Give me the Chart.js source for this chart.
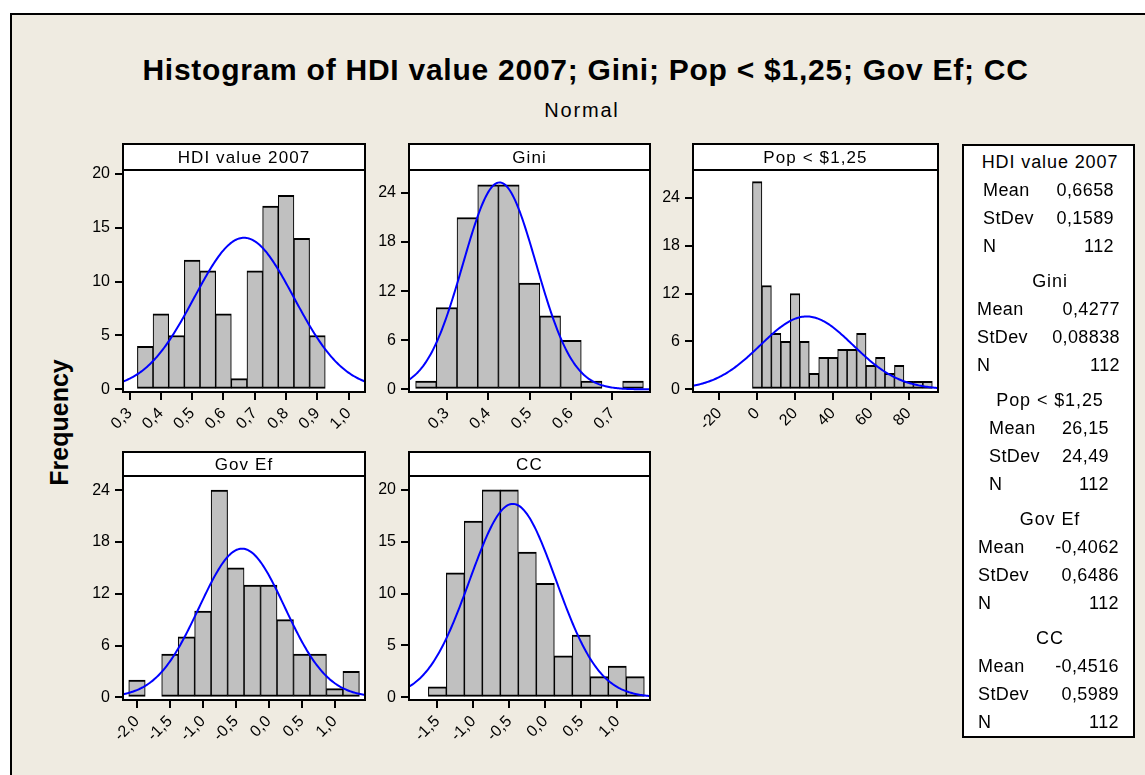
<!DOCTYPE html>
<html>
<head>
<meta charset="utf-8">
<script src="https://cdn.jsdelivr.net/npm/chart.js@4.4.1/dist/chart.umd.min.js"></script>
<style>
  html, body { margin: 0; padding: 0; background: #ffffff; }
  body { width: 1145px; height: 775px; position: relative; overflow: hidden; font-family: 'Liberation Sans', Arial, sans-serif; color: #000; }
  #page { position: absolute; left: 10px; top: 13px; width: 1140px; height: 770px; background: #EFEBE1; border-left: 2px solid #000; border-top: 2px solid #000; }
  .abs { position: absolute; white-space: nowrap; }
  #title { left: 0; width: 1171px; top: 54.6px; text-align: center; font-size: 30px; line-height: 30px; font-weight: bold; letter-spacing: 0.75px; }
  #subtitle { left: 0; width: 1164px; top: 99.5px; text-align: center; font-size: 20px; line-height: 20px; letter-spacing: 1.8px; }
  #ylab { left: -41.5px; top: 409.5px; width: 200px; height: 25px; text-align: center; font-size: 25px; line-height: 25px; font-weight: bold; transform: rotate(-90deg); }
  #legend { left: 962px; top: 144px; width: 169px; height: 590px; background: #fff; border: 2px solid #000; }
  .lg { font-size: 18px; line-height: 18px; letter-spacing: 0.4px; }
  .lgh { letter-spacing: 0.9px; }
</style>
</head>
<body>
<div id="page"></div>
<div class="abs" id="title">Histogram of HDI value 2007; Gini; Pop &lt; $1,25; Gov Ef; CC</div>
<div class="abs" id="subtitle">Normal</div>
<div class="abs" id="ylab">Frequency</div>
<div class="abs" id="legend"></div>
<script>
// ---------------- DATA ----------------
const panelNames = ['HDI value 2007', 'Gini', 'Pop < $1,25', 'Gov Ef', 'CC'];

// histogram bin midpoints and counts
const hdiBins   = [0.35, 0.40, 0.45, 0.50, 0.55, 0.60, 0.65, 0.70, 0.75, 0.80, 0.85, 0.90];
const hdiCounts = [4, 7, 5, 12, 11, 7, 1, 11, 17, 18, 14, 5];

const giniBins   = [0.25, 0.30, 0.35, 0.40, 0.45, 0.50, 0.55, 0.60, 0.65, 0.70, 0.75];
const giniCounts = [1, 10, 21, 25, 25, 13, 9, 6, 1, 0, 1];

const popBins   = [0, 5, 10, 15, 20, 25, 30, 35, 40, 45, 50, 55, 60, 65, 70, 75, 80, 85, 90];
const popCounts = [26, 13, 7, 6, 12, 6, 2, 4, 4, 5, 5, 7, 3, 4, 2, 3, 1, 1, 1];

const govBins   = [-2.00, -1.75, -1.50, -1.25, -1.00, -0.75, -0.50, -0.25, 0.00, 0.25, 0.50, 0.75, 1.00, 1.25];
const govCounts = [2, 0, 5, 7, 10, 24, 15, 13, 13, 9, 5, 5, 1, 3];

const ccBins   = [-1.50, -1.25, -1.00, -0.75, -0.50, -0.25, 0.00, 0.25, 0.50, 0.75, 1.00, 1.25];
const ccCounts = [1, 12, 17, 20, 20, 14, 11, 4, 6, 2, 3, 2];

// fitted normal parameters (legend)
const means  = [0.6658, 0.4277, 26.15, -0.4062, -0.4516];
const stdevs = [0.1589, 0.08838, 24.49, 0.6486, 0.5989];
const counts = [112, 112, 112, 112, 112];
const meanLabels  = ['0,6658', '0,4277', '26,15', '-0,4062', '-0,4516'];
const stdevLabels = ['0,1589', '0,08838', '24,49', '0,6486', '0,5989'];
const nLabels     = ['112', '112', '112', '112', '112'];

// tick values and labels
const hdiXTicks  = [0.3, 0.4, 0.5, 0.6, 0.7, 0.8, 0.9, 1.0];
const hdiXLabels = ['0,3', '0,4', '0,5', '0,6', '0,7', '0,8', '0,9', '1,0'];
const giniXTicks  = [0.3, 0.4, 0.5, 0.6, 0.7];
const giniXLabels = ['0,3', '0,4', '0,5', '0,6', '0,7'];
const popXTicks  = [-20, 0, 20, 40, 60, 80];
const popXLabels = ['-20', '0', '20', '40', '60', '80'];
const govXTicks  = [-2.0, -1.5, -1.0, -0.5, 0.0, 0.5, 1.0];
const govXLabels = ['-2,0', '-1,5', '-1,0', '-0,5', '0,0', '0,5', '1,0'];
const ccXTicks  = [-1.5, -1.0, -0.5, 0.0, 0.5, 1.0];
const ccXLabels = ['-1,5', '-1,0', '-0,5', '0,0', '0,5', '1,0'];

const yTicks5 = [0, 5, 10, 15, 20];
const yTicks6 = [0, 6, 12, 18, 24];

// ---------------- LAYOUT ----------------
Chart.defaults.font.family = "'Liberation Sans', Arial, sans-serif";
Chart.defaults.color = '#000';

const AXW = 48, AXH = 52, PR = 12;
const FONT = "'Liberation Sans', Arial, sans-serif";

const panels = [
  { i: 0, bins: hdiBins, counts: hdiCounts, xTicks: hdiXTicks, xLabels: hdiXLabels, yTicks: yTicks5,
    left: 123, right: 365, stripTop: 144, top: 170, bottom: 392, xMin: 0.279, xMax: 1.052, yMin: -0.24, yMax: 20.34 },
  { i: 1, bins: giniBins, counts: giniCounts, xTicks: giniXTicks, xLabels: giniXLabels, yTicks: yTicks6,
    left: 409, right: 650, stripTop: 144, top: 170, bottom: 392, xMin: 0.209, xMax: 0.791, yMin: -0.32, yMax: 26.8 },
  { i: 2, bins: popBins, counts: popCounts, xTicks: popXTicks, xLabels: popXLabels, yTicks: yTicks6,
    left: 693, right: 938, stripTop: 144, top: 170, bottom: 392, xMin: -33.9, xMax: 95.5, yMin: -0.33, yMax: 27.46 },
  { i: 3, bins: govBins, counts: govCounts, xTicks: govXTicks, xLabels: govXLabels, yTicks: yTicks6,
    left: 123, right: 365, stripTop: 452, top: 476, bottom: 700, xMin: -2.212, xMax: 1.46, yMin: -0.31, yMax: 25.64 },
  { i: 4, bins: ccBins, counts: ccCounts, xTicks: ccXTicks, xLabels: ccXLabels, yTicks: yTicks5,
    left: 409, right: 650, stripTop: 452, top: 476, bottom: 700, xMin: -1.894, xMax: 1.454, yMin: -0.26, yMax: 21.34 }
];

const framePlugin = {
  id: 'frame',
  beforeDraw(chart) {
    const { ctx, chartArea: a } = chart;
    const st = chart.options.plugins.frame.stripTop;
    ctx.save();
    ctx.fillStyle = '#fff';
    ctx.fillRect(a.left, a.top, a.right - a.left, a.bottom - a.top);
    ctx.fillRect(a.left, st, a.right - a.left, a.top - st);
    ctx.restore();
  },
  afterDraw(chart) {
    const { ctx, chartArea: a } = chart;
    const o = chart.options.plugins.frame;
    ctx.save();
    ctx.strokeStyle = '#000';
    ctx.lineWidth = 2;
    ctx.strokeRect(a.left, o.stripTop, a.right - a.left, a.bottom - o.stripTop);
    ctx.beginPath();
    ctx.moveTo(a.left, a.top); ctx.lineTo(a.right, a.top);
    ctx.stroke();
    ctx.fillStyle = '#000';
    ctx.font = '17px ' + FONT;
    ctx.textAlign = 'center';
    ctx.textBaseline = 'middle';
    try { ctx.letterSpacing = '1.1px'; } catch (e) {}
    ctx.fillText(o.label, (a.left + a.right) / 2, (o.stripTop + a.top) / 2 + 1);
    ctx.restore();
  }
};

function makePanel(p) {
  const wrapTop = p.stripTop - 2;
  const wrap = document.createElement('div');
  wrap.style.cssText = 'position:absolute;left:' + (p.left - AXW) + 'px;top:' + wrapTop + 'px;width:' +
    (p.right - p.left + AXW + PR) + 'px;height:' + (p.bottom - wrapTop + AXH) + 'px;';
  const cv = document.createElement('canvas');
  wrap.appendChild(cv);
  document.body.appendChild(wrap);

  const mean = means[p.i], sd = stdevs[p.i], n = counts[p.i];
  const binW = p.bins[1] - p.bins[0];
  // fitted normal curve (scaled to counts) from the legend's Mean / StDev
  const curve = [];
  const steps = 200;
  for (let k = 0; k <= steps; k++) {
    const x = p.xMin + (p.xMax - p.xMin) * k / steps;
    const z = (x - mean) / sd;
    curve.push({ x: x, y: n * binW * Math.exp(-0.5 * z * z) / (sd * Math.sqrt(2 * Math.PI)) });
  }

  new Chart(cv, {
    type: 'bar',
    data: {
      datasets: [
        { type: 'line', data: curve, borderColor: '#0000ff', borderWidth: 2, pointRadius: 0,
          tension: 0, order: 0, fill: false },
        { type: 'bar', data: p.bins.map((b, k) => ({ x: b, y: p.counts[k] })),
          backgroundColor: '#c0c0c0', borderColor: '#000',
          borderWidth: { top: 2, bottom: 2, left: 1.1, right: 1.1 }, borderSkipped: false,
          barPercentage: 1, categoryPercentage: 1, order: 1 }
      ]
    },
    options: {
      responsive: true, maintainAspectRatio: false, animation: false,
      layout: { padding: { top: p.top - wrapTop, right: PR, left: 0, bottom: 0 } },
      plugins: {
        legend: { display: false }, tooltip: { enabled: false }, title: { display: false },
        frame: { stripTop: p.stripTop - wrapTop, label: panelNames[p.i] }
      },
      scales: {
        x: {
          type: 'linear', min: p.xMin, max: p.xMax, offset: false,
          afterFit: s => { s.height = AXH; },
          afterBuildTicks: s => { s.ticks = p.xTicks.map(v => ({ value: v })); },
          ticks: { callback: (v, idx) => p.xLabels[idx], maxRotation: 45, minRotation: 45,
                   autoSkip: false, font: { size: 16 }, color: '#000', padding: 4 },
          grid: { display: true, drawOnChartArea: false, drawTicks: true, tickLength: 8,
                  color: '#000', lineWidth: 2, offset: false },
          border: { display: false }
        },
        y: {
          type: 'linear', min: p.yMin, max: p.yMax, beginAtZero: false,
          afterFit: s => { s.width = AXW; },
          afterBuildTicks: s => { s.ticks = p.yTicks.map(v => ({ value: v })); },
          ticks: { callback: v => String(v), autoSkip: false, font: { size: 16 }, color: '#000', padding: 5 },
          grid: { display: true, drawOnChartArea: false, drawTicks: true, tickLength: 8,
                  color: '#000', lineWidth: 2 },
          border: { display: false }
        }
      }
    },
    plugins: [framePlugin]
  });
}

panels.forEach(makePanel);

// ---------------- legend box ----------------
const legendLayout = [
  { labelX: 983, valueR: 1114 },
  { labelX: 977, valueR: 1120 },
  { labelX: 989, valueR: 1109 },
  { labelX: 978, valueR: 1119 },
  { labelX: 978, valueR: 1119 }
];
function addText(txt, x, cy, align, extra) {
  const d = document.createElement('div');
  d.className = 'abs lg' + (extra ? ' ' + extra : '');
  d.textContent = txt;
  const top = cy - 8.8;
  if (align === 'center') {
    d.style.cssText = 'left:' + (x - 100) + 'px;width:200px;text-align:center;top:' + top + 'px;';
  } else if (align === 'right') {
    d.style.cssText = 'left:' + (x - 200) + 'px;width:200px;text-align:right;top:' + top + 'px;';
  } else {
    d.style.cssText = 'left:' + x + 'px;top:' + top + 'px;';
  }
  document.body.appendChild(d);
}
for (let g = 0; g < 5; g++) {
  const c0 = 162 + 119 * g;
  const L = legendLayout[g];
  addText(panelNames[g], 1050, c0, 'center', 'lgh');
  addText('Mean', L.labelX, c0 + 28, 'left');
  addText(meanLabels[g], L.valueR, c0 + 28, 'right');
  addText('StDev', L.labelX, c0 + 56, 'left');
  addText(stdevLabels[g], L.valueR, c0 + 56, 'right');
  addText('N', L.labelX, c0 + 84, 'left');
  addText(nLabels[g], L.valueR, c0 + 84, 'right');
}
</script>
</body>
</html>
